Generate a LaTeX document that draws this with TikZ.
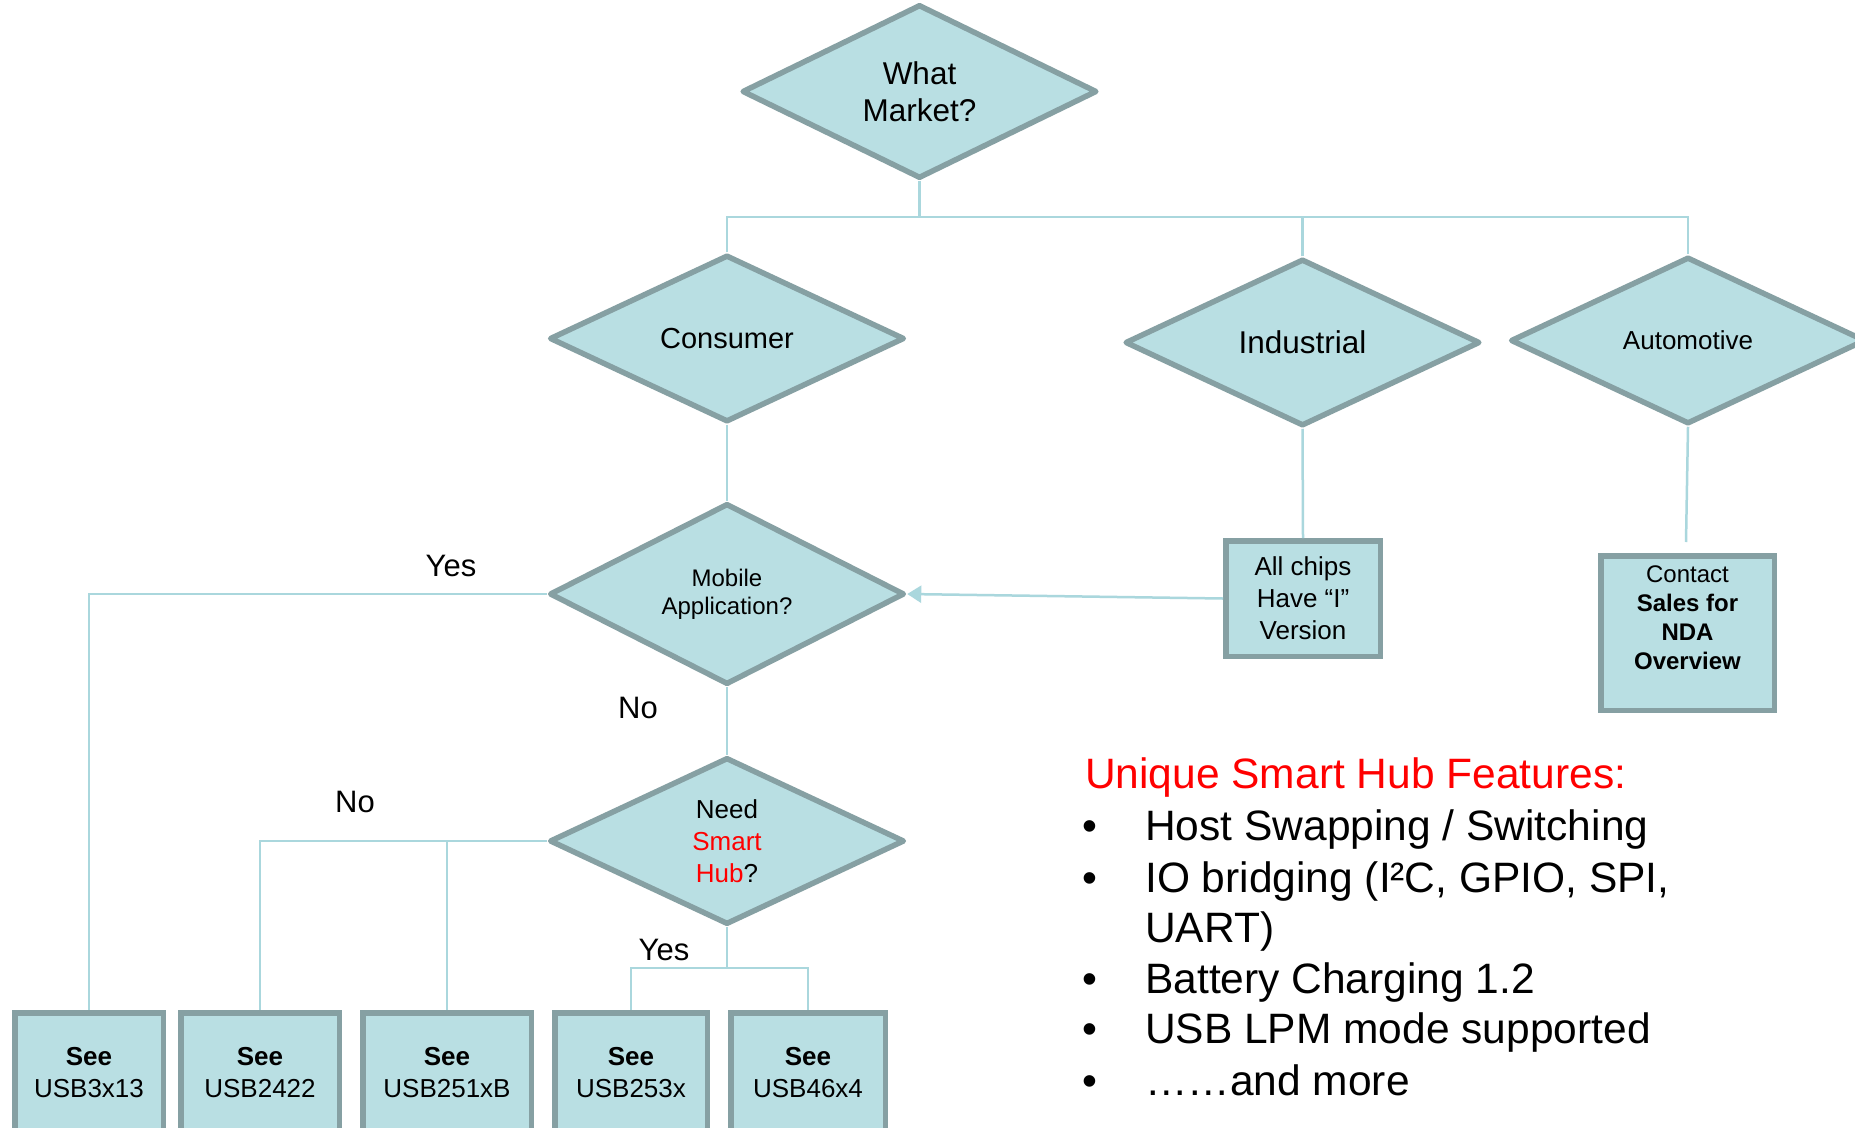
\documentclass[tikz,border=0pt]{standalone}
\usepackage{fontspec}
\setmainfont{Liberation Sans}
\usetikzlibrary{shapes.geometric,arrows.meta}
\definecolor{fillc}{RGB}{185,223,227}
\definecolor{borderc}{RGB}{134,160,163}
\definecolor{linec}{RGB}{170,215,221}
\definecolor{redc}{RGB}{255,0,0}
\tikzset{
 dia/.style={diamond, draw=borderc, fill=fillc, line width=5.5pt, line join=round, minimum width=355pt, minimum height=167pt, inner sep=0pt, align=center, text=black},
 boxn/.style={rectangle, draw=borderc, fill=fillc, line width=5.5pt, inner sep=0pt, align=center, text=black},
 conn/.style={draw=linec, line width=2.5pt},
 lbl/.style={font=\fontsize{31}{36}\selectfont, inner sep=0pt},
 feat/.style={anchor=base west, font=\fontsize{42.5}{50}\selectfont, inner sep=0pt},
}
\begin{document}
\begin{tikzpicture}[x=1pt,y=-1pt]
\clip (0,0) rectangle (1855,1127);
\fill[white] (0,0) rectangle (1855,1127);
% diamonds
\node[dia, font=\fontsize{31.5}{37}\selectfont] (wm) at (919.5,91.5) {What\\Market?};
\node[dia, font=\fontsize{29}{34}\selectfont] (cons) at (727,338.5) {Consumer};
\node[dia, font=\fontsize{31.5}{37}\selectfont] (ind) at (1302.5,342.5) {Industrial};
\node[dia, font=\fontsize{26}{31}\selectfont] (auto) at (1688,340.5) {Automotive};
\node[dia, font=\fontsize{24}{28}\selectfont] (mob) at (727,594) {Mobile\\Application?};
\node[dia, font=\fontsize{26}{32}\selectfont] (need) at (727,841) {Need\\\textcolor{redc}{Smart}\\\textcolor{redc}{Hub}?};
% boxes
\node[boxn, minimum width=154.5pt, minimum height=115.5pt, font=\fontsize{26}{32}\selectfont] (chips) at (1303,598.5) {All chips\\Have “I”\\Version};
\node[boxn, minimum width=173.5pt, minimum height=154.5pt] (contact) at (1687.5,633) {};
\node[font=\fontsize{24}{29}\selectfont, align=center, inner sep=0pt] (contacttxt) at (1687.5,618) {Contact\\\textbf{Sales for}\\\textbf{NDA}\\\textbf{Overview}};
\node[boxn, minimum width=148.5pt, minimum height=120.5pt, font=\fontsize{26}{32}\selectfont] (b1) at (89,1073) {\textbf{See}\\USB3x13};
\node[boxn, minimum width=158.5pt, minimum height=120.5pt, font=\fontsize{26}{32}\selectfont] (b2) at (260,1073) {\textbf{See}\\USB2422};
\node[boxn, minimum width=168.5pt, minimum height=120.5pt, font=\fontsize{26}{32}\selectfont] (b3) at (447,1073) {\textbf{See}\\USB251xB};
\node[boxn, minimum width=152.5pt, minimum height=120.5pt, font=\fontsize{26}{32}\selectfont] (b4) at (631,1073) {\textbf{See}\\USB253x};
\node[boxn, minimum width=154.5pt, minimum height=120.5pt, font=\fontsize{26}{32}\selectfont] (b5) at (808,1073) {\textbf{See}\\USB46x4};
% connectors
\coordinate (bus) at (919.5,217);
\coordinate (yj) at (727,968);
\coordinate (autoend) at (1686,542);
\draw[conn] (wm.south) -- (bus);
\draw[conn] (cons.north) |- (bus) -| (auto.north);
\draw[conn] (ind.north) -- (ind.north |- bus);
\draw[conn] (cons.south) -- (mob.north);
\draw[conn] (mob.south) -- (need.north);
\draw[conn] (ind.south) -- (chips.north);
\draw[conn] (auto.south) -- (autoend);
\draw[conn, -{Triangle[length=14pt,width=17pt]}] (chips.west) -- (mob.east);
\draw[conn] (mob.west) -| (b1.north);
\draw[conn] (need.west) -| (b2.north);
\draw[conn] (need.west -| b3.north) -- (b3.north);
\draw[conn] (need.south) -- (yj);
\draw[conn] (b4.north) |- (yj) -| (b5.north);
% labels
\node[lbl] (yes1) at (451,566) {Yes};
\node[lbl] (no1) at (638,708) {No};
\node[lbl] (no2) at (355,802) {No};
\node[lbl] (yes2) at (664,950) {Yes};
% features
\node[feat, text=redc] (ftitle) at (1085,788) {Unique Smart Hub Features:};
\node[feat] (d1) at (1082,840) {•};
\node[feat] (f1) at (1145,840) {Host Swapping / Switching};
\node[feat] (d2) at (1082,892) {•};
\node[feat] (f2) at (1145,892) {IO bridging (I²C, GPIO, SPI,};
\node[feat] (f3) at (1145,942) {UART)};
\node[feat] (d4) at (1082,993) {•};
\node[feat] (f4) at (1145,993) {Battery Charging 1.2};
\node[feat] (d5) at (1082,1043) {•};
\node[feat] (f5) at (1145,1043) {USB LPM mode supported};
\node[feat] (d6) at (1082,1095) {•};
\node[feat] (f6) at (1145,1095) {……and more};
\end{tikzpicture}
\end{document}
